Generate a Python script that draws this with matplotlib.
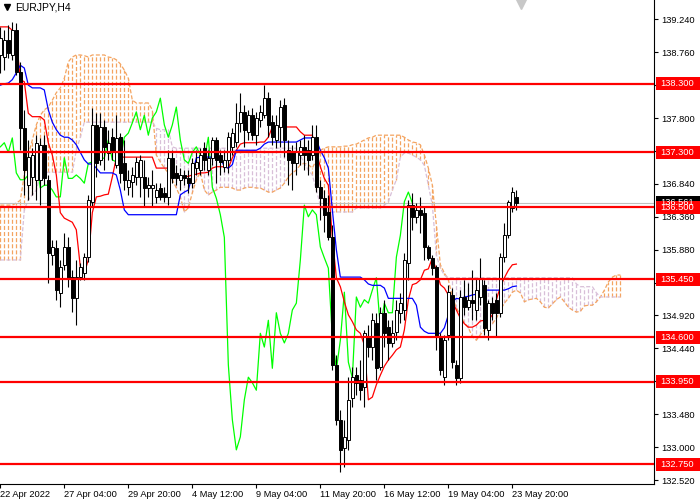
import numpy as np
import matplotlib.pyplot as plt
import matplotlib.transforms as mtransforms
from matplotlib.patches import Rectangle

plt.rcParams['lines.scale_dashes'] = False
plt.rcParams['font.family'] = ['Liberation Sans', 'DejaVu Sans']

symbol = "EURJPY,H4"

# ---------- candles (H4 bars, oldest first) ----------
opens = [138.72, 138.69, 138.94, 138.72, 139.08, 138.47, 137.65, 136.82, 136.94, 136.90,
         136.90, 137.41, 136.90, 135.80, 135.90, 135.25, 135.66, 135.92, 135.48, 135.17,
         135.48, 135.54, 135.77, 136.58, 137.70, 137.19, 137.67, 137.29, 137.52, 137.12,
         137.52, 137.14, 136.79, 136.87, 136.94, 136.94, 136.94, 136.78, 136.78, 136.65,
         136.78, 136.71, 136.65, 137.22, 137.00, 136.90, 136.97, 136.92, 136.85, 137.07,
         137.04, 137.36, 137.04, 137.22, 137.48, 137.26, 137.09, 137.19, 137.38, 137.45,
         137.73, 137.89, 137.60, 137.84, 137.55, 137.77, 137.84, 138.09, 137.74, 137.48,
         137.67, 137.99, 137.33, 137.30, 137.14, 137.26, 137.38, 137.33, 137.26, 137.52,
         136.79, 136.63, 136.43, 136.06, 134.20, 133.40, 132.99, 133.10, 133.72, 134.05,
         133.98, 133.88, 134.61, 134.46, 134.81, 134.17, 134.96, 134.75, 134.52, 134.68,
         134.96, 135.00, 135.69, 136.53, 136.36, 136.46, 136.41, 135.92, 135.76, 135.63,
         134.61, 134.02, 134.64, 135.22, 134.20, 134.01, 135.19, 135.04, 135.15, 135.00,
         135.19, 135.37, 134.71, 135.10, 135.15, 134.96, 135.77, 136.09, 136.49, 136.65]
highs = [139.13, 139.08, 139.16, 139.20, 139.19, 138.62, 137.92, 137.48, 137.36, 137.55,
         137.51, 137.55, 136.97, 136.02, 136.02, 135.73, 136.12, 136.06, 135.58, 135.73,
         135.69, 135.83, 136.68, 137.95, 137.87, 137.87, 137.77, 137.63, 137.65, 137.84,
         137.58, 137.48, 137.04, 137.09, 137.23, 137.26, 137.19, 136.94, 137.04, 136.85,
         136.85, 136.79, 137.33, 137.33, 137.12, 137.07, 137.04, 137.04, 137.22, 137.33,
         137.36, 137.45, 137.33, 137.52, 137.52, 137.33, 137.33, 137.60, 137.65, 138.02,
         138.17, 137.99, 137.92, 137.95, 137.89, 137.99, 138.28, 138.18, 137.84, 137.84,
         138.06, 138.09, 137.48, 137.41, 137.45, 137.48, 137.55, 137.48, 137.70, 137.70,
         136.90, 136.75, 136.68, 136.24, 134.35, 133.54, 133.40, 134.02, 134.17, 134.17,
         134.27, 134.71, 134.78, 134.96, 134.96, 135.04, 135.15, 134.85, 134.85, 135.15,
         135.25, 135.83, 136.61, 136.71, 136.56, 136.65, 136.50, 135.95, 135.80, 135.66,
         134.66, 134.64, 135.37, 135.32, 134.27, 135.29, 135.44, 135.39, 135.58, 135.47,
         135.76, 135.44, 135.15, 135.19, 135.25, 135.83, 136.27, 136.61, 136.79, 136.75]
lows = [138.46, 138.50, 138.68, 138.65, 138.43, 137.33, 136.68, 136.60, 136.68, 136.60,
        136.53, 136.82, 135.39, 135.66, 135.15, 135.04, 135.58, 135.34, 134.97, 134.78,
        135.44, 135.44, 135.70, 136.50, 136.94, 137.12, 137.04, 137.19, 137.19, 137.07,
        136.85, 136.75, 136.68, 136.65, 136.82, 136.65, 136.50, 136.65, 136.50, 136.56,
        136.60, 136.58, 136.53, 136.85, 136.82, 136.75, 136.82, 136.71, 136.78, 136.97,
        136.97, 137.04, 136.97, 137.12, 136.85, 136.97, 137.01, 137.00, 137.26, 137.38,
        137.60, 137.38, 137.48, 137.48, 137.41, 137.67, 137.80, 137.52, 137.41, 137.36,
        137.38, 137.23, 136.82, 136.75, 136.97, 137.12, 137.04, 136.97, 137.19, 136.72,
        136.31, 136.14, 136.02, 134.13, 133.32, 132.64, 132.71, 132.96, 133.58, 133.76,
        133.69, 133.58, 134.31, 134.27, 133.98, 134.13, 134.46, 134.27, 134.46, 134.56,
        134.81, 134.85, 135.44, 136.17, 136.27, 136.12, 135.73, 135.73, 135.51, 134.42,
        134.05, 133.91, 134.56, 134.15, 133.91, 133.94, 134.93, 135.00, 134.85, 134.85,
        135.07, 134.64, 134.56, 134.85, 134.61, 134.90, 135.70, 136.05, 136.43, 136.46]
closes = [138.97, 138.94, 138.75, 139.08, 138.47, 137.65, 137.04, 137.23, 137.26, 137.44,
          137.41, 136.92, 135.83, 135.92, 135.29, 135.63, 135.92, 135.47, 135.17, 135.48,
          135.63, 135.77, 136.60, 137.70, 137.14, 137.67, 137.38, 137.44, 137.30, 137.51,
          137.00, 136.90, 136.90, 136.97, 137.16, 137.19, 136.78, 136.82, 136.82, 136.75,
          136.65, 136.65, 137.22, 136.92, 136.92, 136.97, 136.92, 136.85, 137.14, 137.16,
          137.26, 137.19, 137.22, 137.48, 137.19, 137.16, 137.19, 137.52, 137.58, 137.73,
          137.89, 137.63, 137.84, 137.55, 137.80, 137.89, 138.09, 137.70, 137.52, 137.70,
          137.96, 137.48, 137.19, 137.14, 137.30, 137.38, 137.26, 137.19, 137.52, 136.79,
          136.63, 136.39, 136.06, 134.20, 133.40, 132.96, 133.15, 133.69, 134.02, 133.94,
          133.83, 134.66, 134.46, 134.85, 134.15, 134.96, 134.66, 134.52, 134.66, 135.00,
          135.10, 135.73, 136.53, 136.36, 136.46, 136.39, 135.92, 135.76, 135.61, 134.61,
          134.13, 134.56, 135.26, 134.24, 134.01, 135.19, 135.04, 135.15, 135.10, 135.29,
          135.47, 134.74, 135.10, 134.96, 134.96, 135.77, 136.09, 136.58, 136.72, 136.561]

# ---------- Ichimoku lines ----------
tenkan = [139.13, 139.13, 139.13, 139.08, 138.97, 138.36, 138.33, 137.87, 137.82, 137.82,
          137.82, 137.77, 137.44, 137.26, 136.97, 136.42, 136.34, 136.31, 136.28, 136.17,
          135.63, 135.54, 135.73, 136.42, 136.65, 136.66, 136.68, 136.69, 136.94, 137.22,
          137.23, 137.23, 137.23, 137.23, 137.23, 137.23, 137.23, 137.23, 137.23, 137.07,
          137.07, 137.07, 137.07, 137.07, 136.94, 136.94, 136.94, 136.95, 136.97, 136.98,
          137.00, 137.00, 137.01, 137.07, 137.09, 137.09, 137.09, 137.07, 137.22, 137.33,
          137.42, 137.44, 137.44, 137.44, 137.44, 137.45, 137.45, 137.52, 137.67, 137.67,
          137.67, 137.67, 137.67, 137.67, 137.67, 137.60, 137.55, 137.55, 137.55, 137.30,
          137.09, 136.92, 136.82, 136.06, 135.47, 135.34, 135.12, 134.93, 134.83, 134.71,
          134.66, 134.49, 133.69, 133.73, 133.91, 134.05, 134.18, 134.27, 134.34, 134.42,
          134.46, 134.71, 135.15, 135.37, 135.39, 135.44, 135.58, 135.60, 135.76, 135.58,
          135.37, 135.32, 135.22, 135.12, 135.00, 134.88, 134.80, 134.75, 134.75, 134.78,
          134.84, 134.85, 134.85, 134.93, 135.15, 135.34, 135.47, 135.58, 135.66, 135.67]
kijun = [138.28, 138.30, 138.31, 138.36, 138.46, 138.57, 138.53, 138.28, 138.24, 138.24,
         138.24, 138.21, 137.92, 137.74, 137.63, 137.55, 137.52, 137.52, 137.48, 137.41,
         137.30, 137.19, 137.13, 137.13, 137.07, 137.00, 137.00, 137.00, 137.00, 136.97,
         136.75, 136.46, 136.39, 136.39, 136.39, 136.39, 136.39, 136.39, 136.39, 136.39,
         136.39, 136.39, 136.39, 136.39, 136.39, 136.68, 136.72, 136.75, 136.97, 137.22,
         137.23, 137.23, 137.23, 137.23, 137.23, 137.22, 137.09, 137.07, 137.12, 137.33,
         137.33, 137.33, 137.33, 137.33, 137.33, 137.36, 137.42, 137.45, 137.45, 137.45,
         137.45, 137.45, 137.45, 137.45, 137.45, 137.48, 137.51, 137.51, 137.51, 137.48,
         137.33, 137.22, 137.07, 136.46, 135.88, 135.48, 135.48, 135.48, 135.48, 135.48,
         135.48, 135.44, 135.38, 135.36, 135.36, 135.36, 135.32, 135.17, 135.17, 135.17,
         135.17, 135.17, 135.17, 135.17, 135.07, 134.75, 134.69, 134.66, 134.66, 134.66,
         134.66, 134.74, 134.93, 135.12, 135.17, 135.16, 135.19, 135.20, 135.22, 135.23,
         135.26, 135.29, 135.29, 135.29, 135.29, 135.29, 135.29, 135.31, 135.34, 135.35]
span_a = [136.53, 136.53, 136.53, 136.53, 136.56, 136.60, 136.97, 137.26, 137.48, 137.70,
          137.84, 137.92, 137.96, 138.06, 138.17, 138.24, 138.38, 138.62, 138.69, 138.72,
          138.72, 138.71, 138.69, 138.72, 138.72, 138.72, 138.72, 138.69, 138.68, 138.65,
          138.59, 138.50, 138.38, 138.06, 138.02, 138.02, 138.02, 138.02, 137.92, 137.26,
          137.16, 137.07, 137.00, 136.90, 136.78, 136.65, 136.43, 136.49, 136.71, 136.90,
          137.01, 136.75, 136.68, 136.72, 136.75, 136.79, 136.79, 136.79, 136.78, 136.75,
          136.75, 136.78, 136.79, 136.79, 136.78, 136.78, 136.75, 136.72, 136.72, 136.75,
          136.78, 136.85, 136.94, 137.00, 137.04, 137.12, 137.14, 137.12, 137.07, 137.19,
          137.33, 137.36, 137.38, 137.38, 137.38, 137.38, 137.39, 137.39, 137.41, 137.42,
          137.45, 137.48, 137.51, 137.52, 137.55, 137.55, 137.55, 137.55, 137.55, 137.55,
          137.55, 137.52, 137.48, 137.45, 137.44, 137.41, 137.26, 137.07, 136.82, 136.24,
          135.66, 135.54, 135.44, 135.19, 135.03, 134.93, 134.81, 134.74, 134.61, 134.56,
          134.64, 134.71, 134.75, 134.80, 134.88, 135.00, 135.10, 135.17, 135.26, 135.29,
          135.25, 135.12, 135.15, 135.16, 135.17, 135.12, 135.04, 135.03, 135.09, 135.15,
          135.19, 135.12, 135.04, 135.00, 134.97, 134.98, 135.06, 135.07, 135.07, 135.12,
          135.19, 135.29, 135.41, 135.48, 135.51, 135.51]
span_b = [135.73, 135.73, 135.73, 135.73, 135.73, 135.73, 136.46, 136.61, 136.68, 136.75,
          136.97, 137.01, 137.01, 137.01, 137.01, 137.01, 137.01, 137.01, 137.01, 137.33,
          137.52, 137.74, 137.74, 137.74, 137.74, 137.74, 137.74, 137.74, 137.74, 137.74,
          137.74, 137.74, 137.74, 137.74, 137.74, 137.74, 137.74, 137.74, 137.74, 137.65,
          137.63, 137.63, 137.63, 137.38, 137.36, 137.36, 137.36, 137.36, 137.36, 137.36,
          137.36, 137.36, 137.36, 137.36, 137.36, 137.36, 137.36, 137.36, 137.33, 137.33,
          137.33, 137.33, 137.33, 137.33, 137.33, 137.36, 137.36, 137.36, 137.36, 137.36,
          137.36, 137.36, 137.36, 137.36, 137.36, 137.26, 137.14, 137.04, 136.97, 136.75,
          136.53, 136.43, 136.43, 136.43, 136.43, 136.43, 136.43, 136.43, 136.43, 136.49,
          136.49, 136.49, 136.49, 136.49, 136.49, 136.49, 136.53, 136.58, 136.75, 136.90,
          137.23, 137.29, 137.29, 137.26, 137.23, 137.19, 137.11, 136.82, 136.53, 135.80,
          135.61, 135.51, 135.47, 135.47, 135.47, 135.47, 135.47, 135.47, 135.47, 135.47,
          135.47, 135.47, 135.47, 135.47, 135.47, 135.47, 135.47, 135.47, 135.47, 135.47,
          135.47, 135.47, 135.47, 135.47, 135.47, 135.47, 135.47, 135.47, 135.47, 135.47,
          135.47, 135.47, 135.47, 135.47, 135.38, 135.34, 135.34, 135.34, 135.34, 135.25,
          135.19, 135.19, 135.19, 135.19, 135.19, 135.19]
chikou_shift = 26

# ---------- horizontal levels & axes ----------
levels = [138.30, 137.30, 136.50, 135.45, 134.60, 133.95, 132.75]
price_ticks = [139.24, 138.76, 138.28, 137.80, 137.32, 136.84, 136.36,
               135.88, 135.40, 134.92, 134.44, 133.96, 133.48, 133.00, 132.52]
hidden_ticks = [138.28, 137.32, 133.96]   # fully covered by level labels
date_ticks = [0, 16, 32, 48, 64, 80, 96, 112, 128]
date_labels = ["22 Apr 2022", "27 Apr 04:00", "29 Apr 20:00", "4 May 12:00",
               "9 May 04:00", "11 May 20:00", "16 May 12:00", "19 May 04:00",
               "23 May 20:00"]

fig = plt.figure(figsize=(7, 5), dpi=100, facecolor='white')
ax = fig.add_axes([0, 16 / 500, 654 / 700, 484 / 500])
ax.set_xlim(-0.075, 163.4)
ax.set_ylim(132.462, 139.522)

# cloud
a = np.array(span_a)
b = np.array(span_b)
xs = np.arange(len(a))
up_kumo = a >= b
lo = np.minimum(a, b)
hi = np.maximum(a, b)
dots = (0, (2.9, 1.5))
ax.vlines(xs[up_kumo], lo[up_kumo], hi[up_kumo], colors='#F4A460',
          linestyles=[dots], lw=0.9, zorder=1)
ax.vlines(xs[~up_kumo], lo[~up_kumo], hi[~up_kumo], colors='#D8BFD8',
          linestyles=[dots], lw=0.9, zorder=1)
ax.plot(xs, a, color='#F4A460', ls=dots, lw=0.9, zorder=1.2)
ax.plot(xs, b, color='#D8BFD8', ls=dots, lw=0.9, zorder=1.2)

# bid line
ax.axhline(closes[-1], color='#C0C0C0', lw=0.8, zorder=1.5)

# lines
x = np.arange(len(closes))
c = np.array(closes)
ax.plot(x[:-chikou_shift], c[chikou_shift:], color='#00FF00', lw=0.9, zorder=2)
ax.plot(x, tenkan, color='#FF0000', lw=0.9, zorder=2.2)
ax.plot(x, kijun, color='#0000FF', lw=0.9, zorder=2.2)

# candles
o = np.array(opens)
h = np.array(highs)
l = np.array(lows)
bull = c >= o
ax.vlines(x, l, h, colors='black', lw=0.8, zorder=3)
ax.bar(x[bull], (c - o)[bull], bottom=o[bull], width=0.7, color='white',
       edgecolor='black', lw=0.7, zorder=3.5)
ax.bar(x[~bull], (c - o)[~bull], bottom=o[~bull], width=0.7, color='black',
       edgecolor='black', lw=0.7, zorder=3.5)

for lv in levels:
    ax.axhline(lv, color='#FF0000', lw=1.6, zorder=5)

# axes styling
for side in ['top', 'left']:
    ax.spines[side].set_visible(False)
for side in ['right', 'bottom']:
    ax.spines[side].set_linewidth(0.8)
    ax.spines[side].set_color('black')
ax.yaxis.tick_right()
ax.set_yticks(price_ticks)
ax.set_yticklabels(["" if p in hidden_ticks else f"{p:.3f}" for p in price_ticks])
ax.set_xticks(date_ticks)
ax.set_xticklabels(date_labels, ha='left')
ax.tick_params(axis='y', length=3, width=0.8, pad=2, labelsize=6.7, colors='black')
ax.tick_params(axis='x', length=3, width=0.8, pad=1.5, labelsize=6.7, colors='black')

# price labels on the right scale
trans = mtransforms.blended_transform_factory(ax.transAxes, ax.transData)
px = (139.522 - 132.462) / 484
box_h = 13 * px


def price_box(val, face, txt):
    ax.add_patch(Rectangle((1 + 2 / 654, val - box_h / 2), 46 / 654, box_h,
                           transform=trans, fc=face, ec='none', clip_on=False, zorder=10))
    ax.text(1 + 6 / 654, val, txt, transform=trans, color='white', fontsize=6.7,
            va='center', ha='left', clip_on=False, zorder=11)


price_box(closes[-1], 'black', f"{closes[-1]:.3f}")
for lv in levels:
    price_box(lv, '#FF0000', f"{lv:.3f}")

# symbol caption and shift marker
ax.plot([7 / 654], [1 - 7 / 484], marker='v', ms=4.5, color='black',
        transform=ax.transAxes, clip_on=False, zorder=12)
ax.text(15 / 654, 1 - 7 / 484, symbol, transform=ax.transAxes, fontsize=7.5,
        va='center', ha='left', zorder=12)
ax.plot([521 / 654], [1 - 3 / 484], marker='v', ms=8, color='#C8C8C8',
        transform=ax.transAxes, clip_on=False, zorder=12)

fig.savefig('out.png', dpi=100, facecolor='white')
